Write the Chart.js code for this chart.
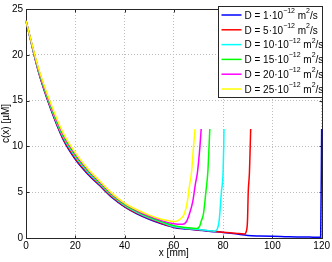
<!DOCTYPE html>
<html lang="en">
<head>
  <meta charset="UTF-8" />
  <title>Concentration profiles c(x)</title>
  <script src="https://cdn.jsdelivr.net/npm/chart.js@4.4.1/dist/chart.umd.min.js"></script>
  <style>
    body {
      margin: 0;
      background: white;
    }
    .chart-container {
      width: 332px;
      height: 262px;
    }
  </style>
</head>
<body>
  <div class="chart-container">
    <canvas id="profileChart"></canvas>
  </div>

  <script>
    // D values for the legend (units 10^-12 m^2/s)
    const dValues = [1, 5, 10, 15, 20, 25];
    const lineColors = ['#0000ff', '#ff0000', '#00ffff', '#00ff00', '#ff00ff', '#ffff00'];

    // x [mm] and c(x) [uM], one pair per curve
    const xBlue = [0, 5, 10, 15, 20, 25, 30, 35, 40, 45, 50, 55, 60, 65, 70, 75, 80, 85, 90, 95, 100, 105, 110, 115, 119.6, 120];
    const cBlue = [23.7, 18.2, 14.1, 10.8, 8.6, 7.0, 5.7, 4.4, 3.4, 2.65, 2.05, 1.55, 1.15, 0.98, 0.85, 0.72, 0.6, 0.45, 0.28, 0.22, 0.18, 0.15, 0.12, 0.1, 0.08, 11.9];

    const xRed = [0, 5, 10, 15, 20, 25, 30, 35, 40, 45, 50, 55, 60, 65, 70, 75, 80, 85, 88.6, 89.5, 89.9, 90.2, 90.7, 91.0, 91.2];
    const cRed = [23.7, 18.26, 14.19, 10.9, 8.7, 7.09, 5.78, 4.47, 3.46, 2.71, 2.11, 1.61, 1.2, 1.02, 0.89, 0.76, 0.63, 0.52, 0.43, 0.8, 1.9, 5.0, 7.2, 10.0, 11.9];

    const xCyan = [0, 5, 10, 15, 20, 25, 30, 35, 40, 45, 50, 55, 60, 65, 70, 74, 76.6, 77.6, 78.4, 79.3, 80.0, 80.25, 80.35];
    const cCyan = [23.7, 18.36, 14.34, 11.08, 8.88, 7.24, 5.9, 4.58, 3.57, 2.81, 2.21, 1.71, 1.25, 1.05, 0.92, 0.8, 0.74, 0.95, 1.9, 5.0, 7.2, 10.0, 11.9];

    const xGreen = [0, 5, 10, 15, 20, 25, 30, 35, 40, 45, 50, 55, 60, 65, 69.3, 70.5, 71.2, 72.0, 73.0, 73.8, 74.3, 74.6];
    const cGreen = [23.7, 18.44, 14.46, 11.22, 9.02, 7.36, 6.0, 4.67, 3.65, 2.89, 2.29, 1.79, 1.35, 1.15, 1.03, 1.3, 1.9, 2.6, 5.0, 7.2, 10.0, 11.9];

    const xMagenta = [0, 5, 10, 15, 20, 25, 30, 35, 40, 45, 50, 55, 60, 63.6, 65.0, 66.3, 67.7, 68.7, 69.6, 70.6, 71.1];
    const cMagenta = [23.7, 18.52, 14.58, 11.36, 9.16, 7.48, 6.1, 4.76, 3.74, 2.97, 2.4, 1.9, 1.56, 1.5, 1.75, 2.6, 4.0, 5.8, 7.2, 10.0, 11.9];

    const xYellow = [0, 5, 10, 15, 20, 25, 30, 35, 40, 45, 50, 55, 58, 60.5, 62.5, 64.2, 65.5, 66.4, 67.2, 68.0, 68.6];
    const cYellow = [23.7, 18.6, 14.7, 11.5, 9.3, 7.6, 6.2, 4.85, 3.82, 3.08, 2.5, 2.05, 1.88, 1.8, 2.05, 2.6, 4.0, 5.8, 7.2, 10.0, 11.9];

    const xSeries = [xBlue, xRed, xCyan, xGreen, xMagenta, xYellow];
    const cSeries = [cBlue, cRed, cCyan, cGreen, cMagenta, cYellow];

    const FONT = '"Liberation Sans", Arial, sans-serif';
    const AXIS_COLOR = '#262626';

    // matlab style box with inward ticks
    const axesBox = {
      id: 'axesBox',
      beforeDatasetsDraw(chart) {
        const { ctx, chartArea: a, scales } = chart;
        const l = Math.round(a.left) + 0.5, r = Math.round(a.right) + 0.5;
        const t = Math.round(a.top) + 0.5, b = Math.round(a.bottom) + 0.5;
        ctx.save();
        ctx.strokeStyle = AXIS_COLOR;
        ctx.lineWidth = 1;
        ctx.strokeRect(l, t, r - l, b - t);
        ctx.beginPath();
        scales.x.ticks.forEach(tk => {
          const px = Math.round(scales.x.getPixelForValue(tk.value)) + 0.5;
          ctx.moveTo(px, b); ctx.lineTo(px, b - 3);
          ctx.moveTo(px, t); ctx.lineTo(px, t + 3);
        });
        scales.y.ticks.forEach(tk => {
          const py = Math.round(scales.y.getPixelForValue(tk.value)) + 0.5;
          ctx.moveTo(l, py); ctx.lineTo(l + 3, py);
          ctx.moveTo(r, py); ctx.lineTo(r - 3, py);
        });
        ctx.stroke();
        ctx.restore();
      }
    };

    // legend drawn inside the axes, with superscripts
    const legendBox = {
      id: 'legendBox',
      afterDraw(chart) {
        const ctx = chart.ctx;
        const x0 = 218.5, y0 = 6.5, w = 104, h = 91;
        ctx.save();
        ctx.fillStyle = '#fff';
        ctx.fillRect(x0, y0, w, h);
        ctx.strokeStyle = AXIS_COLOR;
        ctx.lineWidth = 1;
        ctx.strokeRect(x0, y0, w, h);
        ctx.textBaseline = 'middle';
        ctx.textAlign = 'left';
        chart.data.datasets.forEach((ds, i) => {
          const y = y0 + 8.5 + i * 14.8;
          ctx.strokeStyle = ds.borderColor;
          ctx.lineWidth = 1.5;
          ctx.beginPath();
          ctx.moveTo(x0 + 3, y);
          ctx.lineTo(x0 + 23, y);
          ctx.stroke();

          const parts = [
            ['D = ' + dValues[i] + '\u00b710', false],
            ['\u221212', true],
            [' m', false],
            ['2', true],
            ['/s', false]
          ];
          let tx = x0 + 26;
          ctx.fillStyle = '#000';
          parts.forEach(([txt, sup]) => {
            ctx.font = (sup ? '7px ' : '10px ') + FONT;
            ctx.fillText(txt, tx, sup ? y - 4 : y + 1);
            tx += ctx.measureText(txt).width;
          });
        });
        ctx.restore();
      }
    };

    const ctx = document.getElementById('profileChart').getContext('2d');
    new Chart(ctx, {
      type: 'line',
      data: {
        datasets: xSeries.map((xs, i) => ({
          label: 'D = ' + dValues[i] + '\u00b710\u207b\u00b9\u00b2 m\u00b2/s',
          data: xs.map((x, j) => ({ x: x, y: cSeries[i][j] })),
          borderColor: lineColors[i],
          borderWidth: 1.5,
          pointRadius: 0,
          fill: false,
          cubicInterpolationMode: 'monotone',
          order: xSeries.length - i
        }))
      },
      options: {
        responsive: true,
        maintainAspectRatio: false,
        animation: false,
        clip: false,
        layout: { padding: { top: 3, right: 9, left: 0, bottom: 0 } },
        plugins: {
          legend: { display: false },
          tooltip: { enabled: false }
        },
        scales: {
          x: {
            type: 'linear',
            min: 0,
            max: 120,
            ticks: { stepSize: 20, color: '#000', font: { family: FONT, size: 10 }, padding: 2, maxRotation: 0 },
            grid: { color: '#bdbdbd', lineWidth: 1, drawTicks: false },
            border: { display: false, dash: [1, 2] },
            title: { display: true, text: 'x [mm]', color: '#000', font: { family: FONT, size: 10 }, padding: { top: 0, bottom: 3 } },
            afterFit: scale => { scale.height = 24; }
          },
          y: {
            type: 'linear',
            min: 0,
            max: 25,
            ticks: { stepSize: 5, color: '#000', font: { family: FONT, size: 10 }, padding: 3 },
            grid: { color: '#bdbdbd', lineWidth: 1, drawTicks: false },
            border: { display: false, dash: [1, 2] },
            title: { display: true, text: 'c(x) [\u00b5M]', color: '#000', font: { family: FONT, size: 10 }, padding: 0 },
            afterFit: scale => { scale.width = 26; }
          }
        }
      },
      plugins: [axesBox, legendBox]
    });
  </script>
</body>
</html>
